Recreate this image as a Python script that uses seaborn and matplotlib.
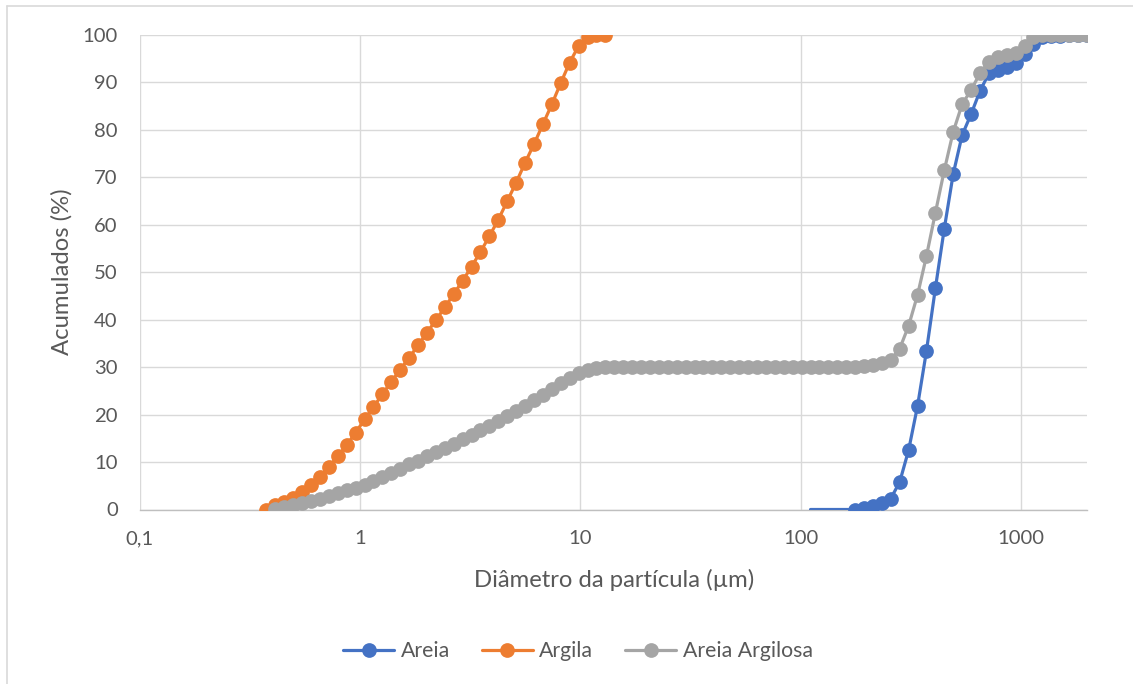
import matplotlib
matplotlib.use("Agg")
import matplotlib.pyplot as plt
from matplotlib.lines import Line2D
from matplotlib.ticker import FixedLocator, NullLocator
import seaborn as sns

# Instrument size channels (µm)
channels = [0.375, 0.412, 0.452, 0.496, 0.545, 0.598, 0.657, 0.721, 0.791, 0.869,
            0.954, 1.047, 1.149, 1.261, 1.385, 1.520, 1.669, 1.832, 2.011, 2.208,
            2.423, 2.660, 2.920, 3.206, 3.519, 3.863, 4.241, 4.656, 5.111, 5.611,
            6.159, 6.761, 7.422, 8.148, 8.944, 9.819, 10.78, 11.83, 12.99, 14.26,
            15.65, 17.18, 18.86, 20.71, 22.73, 24.95, 27.39, 30.07, 33.01, 36.24,
            39.78, 43.67, 47.94, 52.62, 57.77, 63.41, 69.61, 76.42, 83.89, 92.09,
            101.1, 111.0, 121.8, 133.7, 146.8, 161.2, 176.9, 194.2, 213.2, 234.1,
            256.9, 282.1, 309.6, 339.9, 373.1, 409.6, 449.7, 493.6, 541.9, 594.9,
            653.0, 716.9, 786.9, 863.9, 948.3, 1041, 1143, 1255, 1377, 1512,
            1660, 1822, 2000]

# Argila: channels 0..38
argila_x = channels[0:39]
argila_y = [0, 0.9, 1.6, 2.5, 3.7, 5.1, 6.9, 9.0, 11.2, 13.6, 16.2, 19.0, 21.6, 24.3,
            26.9, 29.5, 32.0, 34.6, 37.3, 39.9, 42.6, 45.4, 48.2, 51.2, 54.3, 57.6,
            61.1, 65.0, 68.9, 73.1, 77.0, 81.2, 85.4, 89.9, 94.2, 97.7, 99.6, 100, 100]

# Areia Argilosa: channels 1..92
argilosa_x = channels[1:93]
argilosa_y = ([0.1, 0.5, 0.9, 1.3, 1.8, 2.3, 2.9, 3.5, 4.1, 4.6, 5.2, 6.0, 6.9, 7.7,
               8.6, 9.5, 10.3, 11.2, 12.1, 13.0, 13.9, 14.9, 15.8, 16.7, 17.6, 18.6,
               19.7, 20.8, 21.8, 23.0, 24.2, 25.4, 26.6, 27.8, 28.8, 29.5, 29.8]
              + [30.0] * 27
              + [30.1, 30.1, 30.2, 30.4, 30.9, 31.5, 33.9, 38.7, 45.2, 53.4, 62.5,
                 71.5, 79.6, 85.4, 88.4, 91.9, 94.4, 95.3, 95.8, 96.3, 97.6, 99.6,
                 100, 100, 100, 100, 100, 100])

# Areia: channels 61..92
areia_x = channels[61:93]
areia_y = [0, 0, 0, 0, 0, 0, 0.4, 0.7, 1.3, 2.3, 5.8, 12.5, 21.8, 33.4, 46.6, 59.2,
           70.7, 78.9, 83.3, 88.2, 91.9, 92.6, 93.3, 94.0, 96.1, 98.2, 99.5, 99.7,
           99.8, 99.9, 100, 100]

series_names = ["Areia", "Argila", "Areia Argilosa"]
colors = ["#4472C4", "#ED7D31", "#A5A5A5"]
x_ticks = [0.1, 1, 10, 100, 1000]
x_ticklabels = ["0,1", "1", "10", "100", "1000"]

sns.set_style("white")
plt.rcParams['font.family'] = ['Lato', 'DejaVu Sans']

W, H = 1133, 684
fig = plt.figure(figsize=(W / 100, H / 100), dpi=100)
ax = fig.add_axes([140 / W, 1 - 509.5 / H, (1087 - 140) / W, (509.5 - 35) / H])

txt = "#595959"
grid_c = "#D9D9D9"
lw = 2.3
ms = 10.6

sns.lineplot(x=areia_x, y=areia_y, ax=ax, color=colors[0], marker='o', markersize=ms,
             markeredgewidth=0, linewidth=lw, sort=False, estimator=None,
             markevery=list(range(5, len(areia_x))), zorder=3)
sns.lineplot(x=argila_x, y=argila_y, ax=ax, color=colors[1], marker='o', markersize=ms,
             markeredgewidth=0, linewidth=lw, sort=False, estimator=None, zorder=4)
sns.lineplot(x=argilosa_x, y=argilosa_y, ax=ax, color=colors[2], marker='o', markersize=ms,
             markeredgewidth=0, linewidth=lw, sort=False, estimator=None, zorder=5)

ax.set_xscale('log')
ax.set_xlim(0.1, 2000)
ax.set_ylim(0, 100)
ax.xaxis.set_major_locator(FixedLocator(x_ticks))
ax.xaxis.set_minor_locator(NullLocator())
ax.set_xticklabels(x_ticklabels)
ax.set_yticks(range(0, 101, 10))

ax.grid(True, which='major', axis='both', color=grid_c, linewidth=1.0)
ax.set_axisbelow(True)
for s in ['top', 'right', 'left']:
    ax.spines[s].set_visible(False)
ax.spines['bottom'].set_color("#BFBFBF")
ax.spines['bottom'].set_linewidth(1.0)
ax.spines['bottom'].set_zorder(1)

ax.tick_params(axis='both', length=0, labelsize=14.6, labelcolor=txt)
ax.tick_params(axis='y', pad=16)
ax.tick_params(axis='x', pad=15)

ax.set_xlabel("")
ax.set_ylabel("")
fig.text(614 / W, 1 - 580 / H, "Diâmetro da partícula (µm)", fontsize=17.2, color=txt,
         ha='center', va='center')
fig.text(62 / W, 1 - 272 / H, "Acumulados (%)", fontsize=17.2, color=txt,
         ha='center', va='center', rotation=90)

handles = [Line2D([0], [0], color=c, linewidth=lw, marker='o', markersize=ms,
                  markeredgewidth=0) for c in colors]
fig.legend(handles, series_names, loc='center', bbox_to_anchor=(578 / W, 1 - 651 / H),
           ncol=3, frameon=False, fontsize=15.3, labelcolor=txt, handlelength=2.4,
           handletextpad=0.3, columnspacing=1.5)

# chart-area border (left and top visible in reference)
fig.add_artist(Line2D([7 / W, 7 / W], [1 - 6 / H, 0], color=grid_c, linewidth=1.2,
                      transform=fig.transFigure))
fig.add_artist(Line2D([7 / W, 1], [1 - 6 / H, 1 - 6 / H], color=grid_c, linewidth=1.2,
                      transform=fig.transFigure))

fig.savefig("out.png", dpi=100, facecolor="white")
